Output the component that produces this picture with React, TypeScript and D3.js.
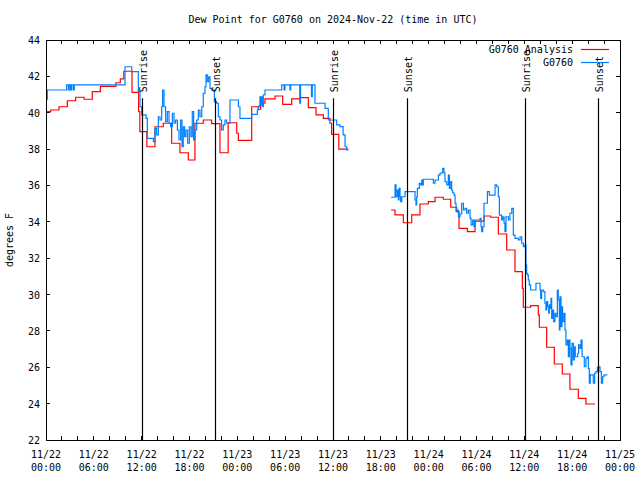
import React from 'react';
import * as d3 from 'd3';

const START = Date.UTC(2024, 10, 22, 0, 0);
const END = Date.UTC(2024, 10, 25, 0, 0);

const TITLE = 'Dew Point for G0760 on 2024-Nov-22 (time in UTC)';
const Y_LABEL = 'degrees F';
const SERIES_NAMES = ['G0760 Analysis', 'G0760'];
const SERIES_COLORS = ['#ff0000', '#0080ff'];
const Y_TICKS = [22, 24, 26, 28, 30, 32, 34, 36, 38, 40, 42, 44];

// hours since 2024-11-22 00:00 UTC, value (deg F)
const analysisA: [number, number][] = [
  [0.08, 40.06], [0.59, 40.15], [1.63, 40.33], [2.68, 40.66], [3.72, 40.85], [4.77, 40.74],
  [5.81, 41.16], [6.82, 41.45], [8.76, 41.65], [9.32, 41.86], [9.76, 42.28], [10.79, 41.12],
  [11.62, 40.06], [11.77, 38.96], [12.65, 38.13], [13.67, 39.23], [14.71, 39.42], [15.76, 38.32],
  [16.8, 37.8], [17.85, 37.4], [18.68, 39.42], [19.73, 39.6], [20.77, 39.4], [21.82, 37.8],
  [22.85, 39.45], [23.92, 38.87], [24.13, 38.48], [25.8, 40.33], [26.63, 40.19], [26.92, 40.52],
  [27.47, 40.76], [28.73, 40.92], [29.69, 40.46], [30.82, 40.76], [31.86, 40.83], [32.91, 40.28],
  [33.87, 39.88], [34.79, 39.69], [35.62, 39.42], [35.83, 38.81], [36.73, 38.0], [37.93, 38.0],
];

const analysisB: [number, number][] = [
  [43.28, 34.65], [43.78, 34.38], [44.82, 33.95], [45.87, 34.38], [46.91, 34.98], [47.96, 35.11],
  [48.8, 35.35], [49.84, 35.24], [50.77, 34.8], [51.51, 34.56], [51.81, 33.64], [52.86, 33.46],
  [53.82, 34.04], [54.94, 34.32], [55.78, 34.25], [56.74, 33.33], [57.79, 32.45], [58.83, 31.26],
  [59.75, 30.34], [59.87, 29.3], [60.79, 29.39], [61.75, 28.88], [61.88, 28.2], [62.8, 27.1],
  [63.76, 26.18], [64.76, 25.63], [65.72, 24.79], [66.77, 24.29], [67.73, 23.98], [68.86, 23.98],
];

const obsA: [number, number][] = [
  [0.09, 40.74], [0.17, 41.25], [2.59, 41.53], [2.81, 41.25], [2.92, 41.53], [3.09, 41.25],
  [3.22, 41.53], [3.43, 41.25], [3.55, 41.53], [9.91, 42.53], [10.75, 42.26], [11.58, 41.16],
  [11.79, 40.33], [12.0, 39.88], [12.54, 39.69], [12.71, 38.59], [13.47, 38.41], [13.67, 39.14],
  [13.88, 38.78], [14.09, 39.78], [14.3, 39.6], [14.51, 40.33], [14.63, 41.25], [14.8, 40.33],
  [15.01, 39.51], [15.22, 40.06], [15.43, 39.42], [15.63, 39.23], [15.85, 39.97], [16.06, 39.42],
  [16.26, 39.6], [16.48, 39.05], [16.68, 38.5], [16.89, 39.6], [17.06, 38.13], [17.22, 39.23],
  [17.39, 38.68], [17.56, 39.05], [17.77, 38.32], [17.98, 39.23], [18.18, 38.68], [18.35, 40.06],
  [18.52, 38.5], [18.68, 39.05], [18.9, 39.6], [19.11, 40.15], [19.31, 39.78], [19.53, 40.33],
  [19.73, 41.07], [19.94, 41.43], [20.07, 42.08], [20.23, 41.71], [20.4, 41.98], [20.57, 41.34],
  [20.78, 41.25], [21.12, 40.61], [21.4, 40.52], [21.62, 39.78], [21.82, 39.6], [22.03, 39.05],
  [22.24, 39.33], [22.45, 39.6], [22.66, 39.42], [23.08, 40.7], [23.91, 40.7], [24.13, 40.33],
  [24.33, 39.69], [25.8, 39.91], [26.51, 40.15], [26.63, 40.33], [26.76, 40.39], [26.84, 40.88],
  [26.92, 40.42], [27.05, 40.88], [27.18, 40.33], [27.26, 40.98], [27.47, 41.25], [29.56, 41.53],
  [29.86, 41.25], [29.97, 41.53], [30.6, 41.25], [30.69, 41.53], [31.83, 40.52], [31.93, 41.53],
  [33.3, 40.88], [33.4, 41.53], [33.74, 40.52], [35.0, 40.24], [35.41, 39.6], [36.46, 39.33],
  [36.88, 39.24], [37.27, 38.78], [37.51, 38.13], [37.72, 37.95], [37.93, 37.95],
];

const obsB: [number, number][] = [
  [43.28, 35.35], [43.78, 36.03], [43.91, 35.38], [44.08, 35.75], [44.2, 35.2], [44.28, 35.84],
  [44.41, 35.38], [44.49, 35.11], [44.62, 35.38], [45.04, 35.66], [46.29, 35.2], [46.41, 34.93],
  [46.5, 35.38], [46.58, 35.84], [46.83, 36.12], [47.0, 36.03], [47.13, 36.3], [47.26, 36.03],
  [47.33, 36.34], [48.59, 36.12], [48.8, 36.3], [49.22, 36.57], [49.42, 36.67], [49.64, 36.7],
  [49.76, 36.94], [49.92, 36.7], [50.05, 36.21], [50.27, 36.03], [50.47, 36.57], [50.6, 35.84],
  [50.77, 36.21], [50.88, 35.75], [51.01, 35.6], [51.18, 35.47], [51.31, 35.02], [51.43, 34.56],
  [51.6, 34.65], [51.73, 34.28], [51.93, 34.43], [52.14, 35.02], [52.36, 34.65], [52.56, 34.74],
  [52.77, 34.47], [52.98, 34.65], [53.19, 34.19], [53.32, 33.83], [53.52, 34.1], [53.69, 33.73],
  [53.82, 34.1], [54.44, 34.19], [54.57, 33.73], [54.65, 33.46], [54.78, 33.73], [54.94, 35.02],
  [55.37, 35.66], [55.61, 35.47], [56.33, 36.03], [56.53, 35.93], [56.74, 35.38], [56.87, 34.37],
  [57.16, 34.1], [57.29, 34.28], [57.46, 33.92], [57.57, 33.46], [57.7, 34.28], [58.0, 34.1],
  [58.2, 34.47], [58.42, 34.74], [58.62, 33.27], [58.83, 33.09], [59.25, 33.0], [59.46, 33.18],
  [59.67, 32.82], [59.88, 32.63], [60.08, 32.73], [60.2, 31.63], [60.29, 31.17], [60.38, 31.08],
  [60.5, 30.8], [60.62, 30.53], [60.79, 30.25], [61.46, 30.62], [61.97, 30.25], [62.05, 29.79],
  [62.17, 30.25], [62.38, 30.16], [62.58, 29.52], [62.71, 29.15], [62.8, 29.61], [62.93, 29.33],
  [63.05, 28.97], [63.13, 29.43], [63.21, 29.24], [63.34, 29.79], [63.43, 28.69], [63.55, 29.15],
  [63.67, 28.51], [63.84, 28.97], [63.97, 28.78], [64.14, 30.25], [64.26, 29.7], [64.39, 28.05],
  [64.47, 29.88], [64.6, 28.23], [64.72, 29.33], [64.8, 28.51], [64.97, 28.97], [65.1, 28.05],
  [65.22, 27.23], [65.39, 27.5], [65.52, 26.58], [65.65, 27.5], [65.72, 27.04], [65.85, 26.13],
  [65.98, 27.32], [66.15, 26.4], [66.27, 27.13], [66.39, 26.58], [66.69, 26.77], [66.81, 27.23],
  [66.98, 27.04], [67.11, 27.5], [67.24, 26.58], [67.52, 26.03], [67.73, 26.49], [67.9, 26.58],
  [68.03, 25.94], [68.15, 25.12], [68.27, 25.58], [68.65, 25.12], [68.82, 25.67], [68.99, 25.76],
  [69.16, 26.0], [69.32, 26.03], [69.49, 25.76], [69.66, 25.12], [69.82, 25.48], [69.99, 25.58],
  [70.41, 25.58],
];

const SUN_EVENTS: [number, string][] = [
  [12.02, 'Sunrise'], [21.2, 'Sunset'], [36.05, 'Sunrise'], [45.3, 'Sunset'], [60.1, 'Sunrise'], [69.28, 'Sunset'],
];
const SUN_LINE_TOP = 40.8;

const FONT = '"DejaVu Sans Mono", monospace';

export default function App() {
  const L = 46, R = 620, T = 40, B = 440;
  const x = d3.scaleUtc().domain([new Date(START), new Date(END)]).range([L, R]);
  const y = d3.scaleLinear().domain([22, 44]).range([B, T]);
  const toDate = (h: number) => new Date(START + h * 3600000);
  const line = d3
    .line<[number, number]>()
    .x((d) => x(toDate(d[0])))
    .y((d) => y(d[1]))
    .curve(d3.curveStepAfter);

  const minorTicks = d3.utcHour.every(2)!.range(new Date(START), new Date(END + 1));
  const labelTicks = d3.utcHour.every(6)!.range(new Date(START), new Date(END + 1));
  const fmtDate = d3.utcFormat('%m/%d');
  const fmtTime = d3.utcFormat('%H:%M');
  const tk = 4;

  return (
    <svg width={640} height={480} style={{ position: 'absolute', left: 0, top: 0, background: '#fff' }}
      fontFamily={FONT} fontSize={10}>
      <rect x={0} y={0} width={640} height={480} fill="#fff" />
      <defs>
        <clipPath id="plot">
          <rect x={L} y={T} width={R - L} height={B - T} />
        </clipPath>
      </defs>
      <text x={(L + R) / 2} y={23} textAnchor="middle">{TITLE}</text>

      {/* ticks */}
      <g stroke="#000" strokeWidth={1} shapeRendering="crispEdges">
        {minorTicks.map((d, i) => (
          <g key={'xt' + i}>
            <line x1={x(d)} x2={x(d)} y1={B} y2={B - tk} />
            <line x1={x(d)} x2={x(d)} y1={T} y2={T + tk} />
          </g>
        ))}
        {Y_TICKS.map((v) => (
          <g key={'yt' + v}>
            <line x1={L} x2={L + tk} y1={y(v)} y2={y(v)} />
            <line x1={R} x2={R - tk} y1={y(v)} y2={y(v)} />
          </g>
        ))}
      </g>

      {labelTicks.map((d, i) => (
        <g key={'xl' + i} textAnchor="middle">
          <text x={x(d)} y={458}>{fmtDate(d)}</text>
          <text x={x(d)} y={471}>{fmtTime(d)}</text>
        </g>
      ))}
      {Y_TICKS.map((v) => (
        <text key={'yl' + v} x={40} y={y(v) + 4} textAnchor="end">{v}</text>
      ))}
      <text transform={`translate(13, ${(T + B) / 2}) rotate(-90)`} textAnchor="middle">{Y_LABEL}</text>

      <g clipPath="url(#plot)" fill="none" strokeWidth={1.2}>
        <path d={line(analysisA)!} stroke={SERIES_COLORS[0]} />
        <path d={line(analysisB)!} stroke={SERIES_COLORS[0]} />
        <path d={line(obsA)!} stroke={SERIES_COLORS[1]} />
        <path d={line(obsB)!} stroke={SERIES_COLORS[1]} />
      </g>

      {SUN_EVENTS.map(([h, name], i) => {
        const xx = Math.round(x(toDate(h))) + 0.5;
        const top = y(SUN_LINE_TOP);
        return (
          <g key={'sun' + i}>
            <line x1={xx} x2={xx} y1={B} y2={top} stroke="#000" strokeWidth={1.2} />
            <text transform={`translate(${xx + 4}, ${top - 6}) rotate(-90)`} textAnchor="start">{name}</text>
          </g>
        );
      })}

      {SERIES_NAMES.map((n, i) => (
        <g key={'lg' + i}>
          <text x={573} y={53 + i * 13} textAnchor="end">{n}</text>
          <line x1={581} x2={609} y1={49.5 + i * 13} y2={49.5 + i * 13} stroke={SERIES_COLORS[i]} strokeWidth={1.2} />
        </g>
      ))}

      <rect x={L} y={T} width={R - L} height={B - T} fill="none" stroke="#000" strokeWidth={1} shapeRendering="crispEdges" />
    </svg>
  );
}
